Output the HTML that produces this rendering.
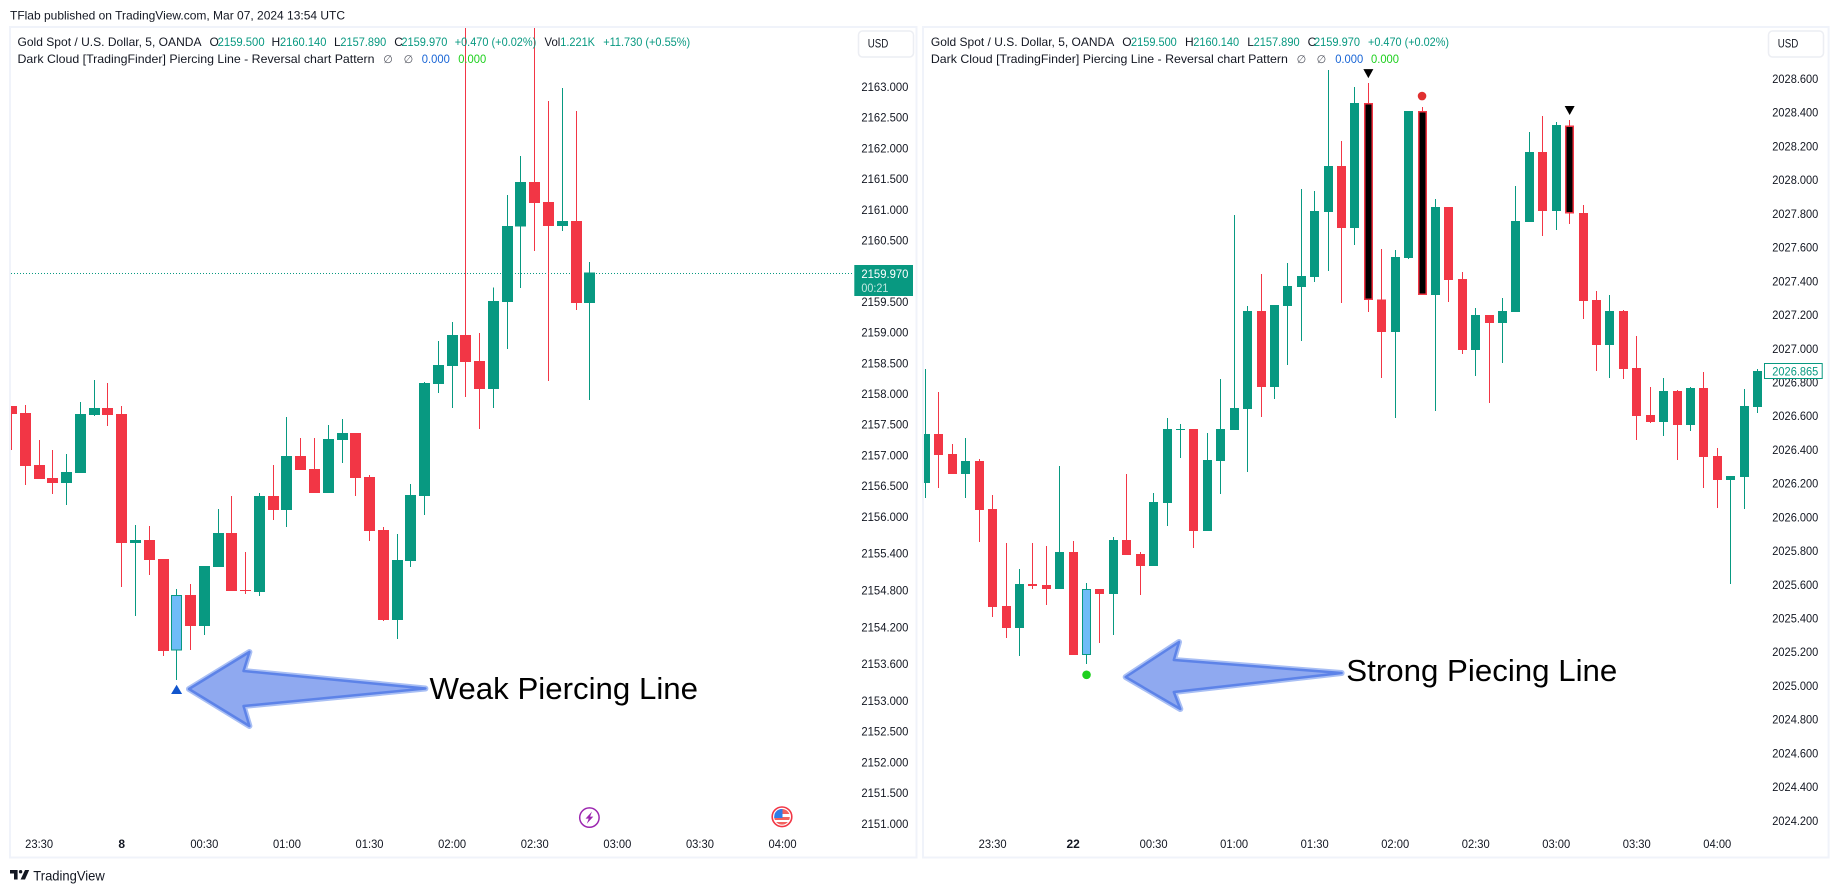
<!DOCTYPE html>
<html lang="en">
<head>
<meta charset="utf-8">
<title>Weak vs Strong Piercing Line</title>
<style>
html,body{margin:0;padding:0;background:#fff;width:1838px;height:893px;overflow:hidden}
svg{display:block}
text{font-family:"Liberation Sans",sans-serif;font-size:12px;fill:#131722}
.up{fill:#089981}
.sym{font-family:"DejaVu Sans",sans-serif;font-size:11px;fill:#50535e}
.note{font-size:31px;fill:#000}
</style>
</head>
<body>
<svg id="root" width="1838" height="893" viewBox="0 0 1838 893" xmlns="http://www.w3.org/2000/svg">
<defs>
<clipPath id="clipL"><rect x="11" y="28" width="843" height="804"/></clipPath>
<clipPath id="clipR"><rect x="924" y="28" width="840" height="804"/></clipPath>
<clipPath id="flagClip"><circle cx="782" cy="816.8" r="7.8"/></clipPath>
</defs>

<text x="10" y="19.5" textLength="335" lengthAdjust="spacingAndGlyphs">TFlab published on TradingView.com, Mar 07, 2024 13:54 UTC</text>

<rect x="10" y="27" width="906.5" height="830.5" fill="#fff" stroke="#f0f3fa" stroke-width="2"/>
<rect x="923" y="27" width="905.6" height="830.5" fill="#fff" stroke="#f0f3fa" stroke-width="2"/>

<line x1="11" x2="854" y1="273.5" y2="273.5" stroke="#089981" stroke-width="1" stroke-dasharray="1 2"/>

<g id="left-axis"></g>
<g id="right-axis"></g>
<g id="left-time"></g>
<g id="right-time"></g>
<g id="left-candles" clip-path="url(#clipL)"></g>
<g id="right-candles" clip-path="url(#clipR)"></g>
<g id="left-marks"></g>
<g id="right-marks"></g>

<g>
<text x="17.5" y="46" textLength="184" lengthAdjust="spacingAndGlyphs">Gold Spot / U.S. Dollar, 5, OANDA</text>
<text x="209.5" y="46">O</text>
<text class="up" x="217.6" y="46" textLength="47" lengthAdjust="spacingAndGlyphs">2159.500</text>
<text x="271.5" y="46">H</text>
<text class="up" x="280" y="46" textLength="46.4" lengthAdjust="spacingAndGlyphs">2160.140</text>
<text x="334" y="46">L</text>
<text class="up" x="340.4" y="46" textLength="45.8" lengthAdjust="spacingAndGlyphs">2157.890</text>
<text x="394.3" y="46">C</text>
<text class="up" x="401.4" y="46" textLength="46" lengthAdjust="spacingAndGlyphs">2159.970</text>
<text class="up" x="454.7" y="46" textLength="81.6" lengthAdjust="spacingAndGlyphs">+0.470 (+0.02%)</text>
<text x="544.5" y="46" textLength="15.8" lengthAdjust="spacingAndGlyphs">Vol</text>
<text class="up" x="560.3" y="46" textLength="34.7" lengthAdjust="spacingAndGlyphs">1.221K</text>
<text class="up" x="603.2" y="46" textLength="87" lengthAdjust="spacingAndGlyphs">+11.730 (+0.55%)</text>
<text x="17.5" y="63" textLength="357" lengthAdjust="spacingAndGlyphs">Dark Cloud [TradingFinder] Piercing Line - Reversal chart Pattern</text>
<text class="sym" x="383.2" y="63">∅</text>
<text class="sym" x="403.6" y="63">∅</text>
<text x="421.8" y="63" textLength="28" lengthAdjust="spacingAndGlyphs" style="fill:#1a66d6">0.000</text>
<text x="458.2" y="63" textLength="28" lengthAdjust="spacingAndGlyphs" style="fill:#1ed01e">0.000</text>
</g>

<g>
<text x="930.9" y="46" textLength="183.3" lengthAdjust="spacingAndGlyphs">Gold Spot / U.S. Dollar, 5, OANDA</text>
<text x="1122.2" y="46">O</text>
<text class="up" x="1131" y="46" textLength="45.8" lengthAdjust="spacingAndGlyphs">2159.500</text>
<text x="1185" y="46">H</text>
<text class="up" x="1193.2" y="46" textLength="46" lengthAdjust="spacingAndGlyphs">2160.140</text>
<text x="1247.2" y="46">L</text>
<text class="up" x="1253.6" y="46" textLength="46" lengthAdjust="spacingAndGlyphs">2157.890</text>
<text x="1307.6" y="46">C</text>
<text class="up" x="1314" y="46" textLength="46" lengthAdjust="spacingAndGlyphs">2159.970</text>
<text class="up" x="1368" y="46" textLength="81" lengthAdjust="spacingAndGlyphs">+0.470 (+0.02%)</text>
<text x="930.9" y="63" textLength="357" lengthAdjust="spacingAndGlyphs">Dark Cloud [TradingFinder] Piercing Line - Reversal chart Pattern</text>
<text class="sym" x="1296.6" y="63">∅</text>
<text class="sym" x="1316.6" y="63">∅</text>
<text x="1335.2" y="63" textLength="28" lengthAdjust="spacingAndGlyphs" style="fill:#1a66d6">0.000</text>
<text x="1371" y="63" textLength="28" lengthAdjust="spacingAndGlyphs" style="fill:#1ed01e">0.000</text>
</g>

<g>
<rect x="858.5" y="31" width="55" height="26" rx="4" fill="#fff" stroke="#eceef3" stroke-width="1.5"/>
<text x="867.7" y="47.3" textLength="20.6" lengthAdjust="spacingAndGlyphs">USD</text>
</g>
<g>
<rect x="1768.5" y="31" width="55" height="26" rx="4" fill="#fff" stroke="#eceef3" stroke-width="1.5"/>
<text x="1777.7" y="47.3" textLength="20.6" lengthAdjust="spacingAndGlyphs">USD</text>
</g>

<g>
<rect x="854.3" y="265" width="58.7" height="31" fill="#089981"/>
<text x="861.4" y="277.8" textLength="47" lengthAdjust="spacingAndGlyphs" style="fill:#fff">2159.970</text>
<text x="861.4" y="292" textLength="27" lengthAdjust="spacingAndGlyphs" style="fill:#bfe6df">00:21</text>
</g>
<g>
<rect x="1764.5" y="363.5" width="57.7" height="15" fill="#fff" stroke="#089981" stroke-width="1"/>
<text x="1772.3" y="375.3" textLength="46" lengthAdjust="spacingAndGlyphs" style="fill:#089981">2026.865</text>
</g>

<g>
<polygon points="189,689 249.4,652 243.5,671 425.4,688.5 243.5,706 249.4,726" fill="#8fa9f0" stroke="#a9bff4" stroke-width="6" stroke-linejoin="round"/>
<polygon points="189,689 249.4,652 243.5,671 425.4,688.5 243.5,706 249.4,726" fill="#8fa9f0" stroke="#5d83e8" stroke-width="2.5" stroke-linejoin="round"/>
</g>
<text class="note" x="429.5" y="699" textLength="268.5" lengthAdjust="spacingAndGlyphs">Weak Piercing Line</text>

<g>
<polygon points="1125.7,677 1179,642 1173.8,660 1341.6,673 1173.8,692 1180.3,709" fill="#8fa9f0" stroke="#a9bff4" stroke-width="6" stroke-linejoin="round"/>
<polygon points="1125.7,677 1179,642 1173.8,660 1341.6,673 1173.8,692 1180.3,709" fill="#8fa9f0" stroke="#5d83e8" stroke-width="2.5" stroke-linejoin="round"/>
</g>
<text class="note" x="1346.3" y="681" textLength="271" lengthAdjust="spacingAndGlyphs">Strong Piecing Line</text>

<g>
<circle cx="589.4" cy="817.6" r="9.7" fill="#fff" stroke="#9c27b0" stroke-width="1.5"/>
<polygon points="592,811.5 585.5,818.6 588.7,818.6 586.8,823.7 593.3,816.6 590.1,816.6" fill="#9c27b0"/>
</g>
<g>
<circle cx="782" cy="816.8" r="9.8" fill="#fff" stroke="#f23645" stroke-width="1.6"/>
<g clip-path="url(#flagClip)">
<rect x="774" y="809" width="16" height="5" fill="#f2635f"/>
<rect x="774" y="817" width="16" height="3" fill="#f2635f"/>
<rect x="774" y="822" width="16" height="3" fill="#f2635f"/>
<rect x="774" y="809" width="8.5" height="9" fill="#2f7de8"/>
</g>
</g>

<g>
<path d="M10 870h7.6v9.5h-3.6v-6h-4z" fill="#131722"/>
<circle cx="20.6" cy="871.7" r="1.7" fill="#131722"/>
<polygon points="25,870 29.2,870 25,879.5 20.6,879.5" fill="#131722"/>
<text x="33.3" y="880.6" textLength="71.5" lengthAdjust="spacingAndGlyphs" style="font-size:14px">TradingView</text>
</g>
</svg>

<script>
// ---------- left chart values (5-minute gold bars) ----------
const leftOpen = [2157.800,2157.686,2156.839,2156.627,2156.545,2156.708,2157.653,2157.767,2157.669,2155.568,2155.617,2155.308,2153.815,2154.721,2154.216,2155.177,2155.731,2154.803,2154.770,2156.334,2156.106,2156.985,2156.774,2156.383,2157.246,2157.360,2156.643,2155.780,2154.314,2155.275,2156.334,2158.158,2158.451,2158.956,2158.532,2158.076,2159.493,2160.720,2161.448,2161.122,2160.731,2160.813,2159.477];
const leftHigh = [2157.800,2157.816,2157.246,2157.083,2157.018,2157.865,2158.223,2158.174,2157.800,2155.861,2155.845,2155.308,2154.819,2154.900,2155.194,2156.122,2156.334,2155.422,2156.383,2156.839,2157.620,2157.278,2157.278,2157.490,2157.588,2157.360,2156.676,2155.829,2155.715,2156.529,2158.190,2158.858,2159.168,2164.200,2158.989,2159.727,2161.236,2161.871,2164.200,2162.767,2162.979,2162.604,2160.145];
const leftLow = [2157.083,2156.513,2156.611,2156.366,2156.187,2156.708,2157.637,2157.474,2154.852,2154.379,2155.047,2153.728,2153.337,2153.826,2154.070,2155.177,2154.786,2154.738,2154.705,2155.943,2155.829,2156.757,2156.383,2156.383,2156.871,2156.334,2155.601,2154.298,2154.005,2155.177,2156.024,2158.011,2157.767,2157.946,2157.425,2157.767,2158.728,2159.721,2160.324,2158.207,2160.650,2159.363,2157.897];
const leftClose = [2157.669,2156.822,2156.611,2156.545,2156.725,2157.669,2157.767,2157.653,2155.568,2155.617,2155.291,2153.809,2154.721,2154.216,2155.194,2155.731,2154.786,2154.786,2156.334,2156.106,2156.985,2156.757,2156.383,2157.262,2157.360,2156.627,2155.764,2154.314,2155.291,2156.350,2158.174,2158.467,2158.956,2158.516,2158.076,2159.510,2160.731,2161.448,2161.106,2160.731,2160.813,2159.477,2159.970];
const leftPriceTicks = ["2163.000","2162.500","2162.000","2161.500","2161.000","2160.500","2159.500","2159.000","2158.500","2158.000","2157.500","2157.000","2156.500","2156.000","2155.400","2154.800","2154.200","2153.600","2153.000","2152.500","2152.000","2151.500","2151.000"];
const leftTimeLabels = ["23:30","8","00:30","01:00","01:30","02:00","02:30","03:00","03:30","04:00"];
const leftTimeBars = [2,8,14,20,26,32,38,44,50,56];
const leftHighlightBar = 12;

// ---------- right chart values ----------
const rightOpen = [2026.202,2026.492,2026.374,2026.255,2026.332,2026.047,2025.472,2025.342,2025.603,2025.597,2025.573,2025.792,2025.182,2025.573,2025.543,2025.864,2025.781,2025.709,2026.083,2026.516,2026.522,2025.917,2026.332,2026.516,2026.641,2027.222,2026.771,2027.251,2027.364,2027.423,2027.809,2028.082,2027.714,2028.455,2027.291,2027.097,2027.536,2028.408,2027.317,2027.839,2027.412,2026.990,2027.198,2027.151,2027.216,2027.750,2028.165,2027.815,2028.323,2027.803,2027.287,2027.020,2027.222,2026.884,2026.605,2026.563,2026.747,2026.546,2026.765,2026.362,2026.219,2026.237,2026.652];
const rightHigh = [2026.878,2026.741,2026.433,2026.469,2026.344,2026.130,2025.846,2025.692,2025.846,2025.828,2026.302,2025.858,2025.609,2025.573,2025.881,2026.255,2025.792,2026.142,2026.587,2026.552,2026.522,2026.498,2026.818,2027.791,2027.251,2027.441,2027.257,2027.506,2027.945,2027.933,2028.651,2028.230,2028.550,2028.574,2027.589,2027.584,2028.408,2028.432,2027.886,2027.839,2027.453,2027.240,2027.198,2027.299,2027.963,2028.283,2028.378,2028.343,2028.355,2027.850,2027.340,2027.317,2027.228,2027.073,2026.771,2026.824,2026.753,2026.771,2026.860,2026.409,2026.243,2026.759,2026.878];
const rightLow = [2026.113,2026.172,2026.255,2026.113,2025.852,2025.407,2025.282,2025.176,2025.573,2025.478,2025.573,2025.182,2025.128,2025.253,2025.300,2025.775,2025.537,2025.709,2025.947,2026.350,2025.816,2025.917,2026.136,2026.516,2026.267,2026.593,2026.700,2026.901,2027.044,2027.394,2027.459,2027.269,2027.613,2027.216,2026.824,2026.587,2027.530,2027.317,2026.629,2027.275,2026.967,2026.836,2026.676,2026.913,2027.216,2027.750,2027.667,2027.702,2027.738,2027.174,2026.866,2026.824,2026.818,2026.457,2026.557,2026.480,2026.338,2026.510,2026.172,2026.053,2025.603,2026.047,2026.617];
const rightClose = [2026.492,2026.368,2026.255,2026.332,2026.041,2025.466,2025.342,2025.603,2025.591,2025.573,2025.792,2025.182,2025.573,2025.543,2025.864,2025.775,2025.709,2026.089,2026.522,2026.522,2025.917,2026.338,2026.522,2026.646,2027.222,2026.771,2027.257,2027.370,2027.429,2027.815,2028.082,2027.714,2028.455,2027.287,2027.097,2027.542,2028.408,2027.317,2027.839,2027.406,2026.990,2027.198,2027.151,2027.222,2027.756,2028.165,2027.815,2028.325,2027.801,2027.281,2027.020,2027.222,2026.878,2026.599,2026.563,2026.747,2026.546,2026.765,2026.356,2026.219,2026.243,2026.658,2026.866];
const rightPriceTicks = ["2028.600","2028.400","2028.200","2028.000","2027.800","2027.600","2027.400","2027.200","2027.000","2026.800","2026.600","2026.400","2026.200","2026.000","2025.800","2025.600","2025.400","2025.200","2025.000","2024.800","2024.600","2024.400","2024.200"];
const rightTimeLabels = ["23:30","22","00:30","01:00","01:30","02:00","02:30","03:00","03:30","04:00"];
const rightTimeBars = [5,11,17,23,29,35,41,47,53,59];
const rightHighlightBar = 12;
const rightDarkCloudBars = [33,37,48];
const rightSellTriangleBars = [33,48];
const rightSellDotBars = [37];

// ---------- axis functions ----------
function leftX(i){ return 11.1 + 13.767 * i; }
function leftY(p){ return 86.7 + (2163 - p) * 61.4; }
function rightX(i){ return 925 + 13.42 * i; }
function rightY(p){ return 78.7 + (2028.6 - p) * 168.6; }

const NS = 'http://www.w3.org/2000/svg';
function make(tag, parent){
  const el = document.createElementNS(NS, tag);
  parent.appendChild(el);
  return el;
}
function rect(parent, x, y, w, h, fill){
  const r = make('rect', parent);
  r.setAttribute('x', x);
  r.setAttribute('y', y);
  r.setAttribute('width', w);
  r.setAttribute('height', h);
  r.setAttribute('fill', fill);
  r.setAttribute('shape-rendering', 'crispEdges');
  return r;
}

function drawCandles(group, o, h, l, c, xf, yf, bodyW, highlight, dark){
  const GREEN = '#089981', RED = '#f23645';
  for (let i = 0; i < o.length; i++) {
    const up = c[i] >= o[i];
    const col = up ? GREEN : RED;
    const cx = Math.round(xf(i));
    const candle = make('g', group);
    
    
    rect(candle, cx, yf(h[i]), 1, yf(l[i]) - yf(h[i]), col);
    const top = yf(Math.max(o[i], c[i]));
    const bot = yf(Math.min(o[i], c[i]));
    const hgt = Math.max(bot - top, 1);
    const bx = cx - Math.floor(bodyW / 2);
    if (i === highlight) {
      rect(candle, bx, top, bodyW, hgt, col);
      rect(candle, bx + 1, top + 1, bodyW - 2, hgt - 2, '#6fbcf8');
    } else if (dark.indexOf(i) >= 0) {
      rect(candle, bx, top, bodyW, hgt, col);
      rect(candle, bx + 1.5, top + 1.5, bodyW - 3, hgt - 3, '#000');
    } else {
      rect(candle, bx, top, bodyW, hgt, col);
    }
  }
}

function drawPriceTicks(group, ticks, x, w, yf){
  ticks.forEach(function(t){
    const el = make('text', group);
    
    
    el.setAttribute('x', x);
    el.setAttribute('y', yf(parseFloat(t)) + 4.3);
    el.setAttribute('textLength', w);
    el.setAttribute('lengthAdjust', 'spacingAndGlyphs');
    el.textContent = t;
  });
}

function drawTimeTicks(group, labels, bars, xf){
  labels.forEach(function(t, k){
    const el = make('text', group);
    
    
    const isDay = t.indexOf(':') < 0;
    el.setAttribute('y', 848);
    if (isDay) {
      el.setAttribute('x', xf(bars[k]) + 0.5);
      el.setAttribute('text-anchor', 'middle');
      el.setAttribute('font-weight', 'bold');
      el.style.fontWeight = 'bold';
    } else {
      el.setAttribute('x', xf(bars[k]) + 0.5 - 14);
      el.setAttribute('textLength', 28);
      el.setAttribute('lengthAdjust', 'spacingAndGlyphs');
    }
    el.textContent = t;
  });
}

function triangle(parent, cx, tipY, baseY, halfW, fill){
  const p = make('polygon', parent);
  p.setAttribute('points', (cx - halfW) + ',' + baseY + ' ' + (cx + halfW) + ',' + baseY + ' ' + cx + ',' + tipY);
  p.setAttribute('fill', fill);
  return p;
}
function dot(parent, cx, cy, r, fill){
  const d = make('circle', parent);
  d.setAttribute('cx', cx);
  d.setAttribute('cy', cy);
  d.setAttribute('r', r);
  d.setAttribute('fill', fill);
  return d;
}

const byId = function(id){ return document.getElementById(id); };

drawPriceTicks(byId('left-axis'), leftPriceTicks, 861.4, 47, leftY);
drawPriceTicks(byId('right-axis'), rightPriceTicks, 1772.3, 46, rightY);
drawTimeTicks(byId('left-time'), leftTimeLabels, leftTimeBars, leftX);
drawTimeTicks(byId('right-time'), rightTimeLabels, rightTimeBars, rightX);
drawCandles(byId('left-candles'), leftOpen, leftHigh, leftLow, leftClose, leftX, leftY, 11, leftHighlightBar, []);
drawCandles(byId('right-candles'), rightOpen, rightHigh, rightLow, rightClose, rightX, rightY, 9, rightHighlightBar, rightDarkCloudBars);

// left weak piercing-line marker
const weakMark = triangle(byId('left-marks'), leftX(leftHighlightBar) + 0.3, leftY(leftLow[leftHighlightBar]) + 4.7, leftY(leftLow[leftHighlightBar]) + 14, 5.5, '#1155cc');



// right strong piercing-line marker
const strongMark = dot(byId('right-marks'), rightX(rightHighlightBar) + 0.5, rightY(rightLow[rightHighlightBar]) + 10.7, 4.3, '#1ed01e');



// right dark cloud markers
rightSellTriangleBars.forEach(function(i){
  const y = rightY(rightHigh[i]);
  const m = triangle(byId('right-marks'), rightX(i) + 0.5, y - 5, y - 14, 5, '#000');
  
  
});
rightSellDotBars.forEach(function(i){
  const m = dot(byId('right-marks'), rightX(i) + 0.5, rightY(rightHigh[i]) - 11, 4.3, '#e03030');
  
  
});
</script>
</body>
</html>
